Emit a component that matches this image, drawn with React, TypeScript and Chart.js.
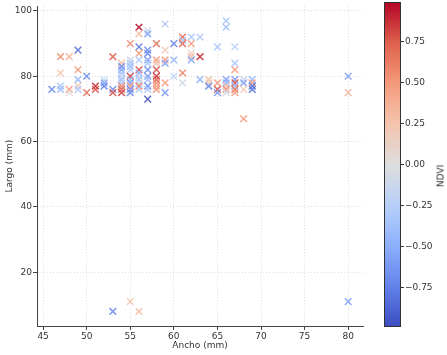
import React, { useEffect, useRef } from 'react';
import { Chart, registerables } from 'chart.js';
Chart.register(...registerables);

// Ancho (mm)
const anchoX = [
  46, 47, 48, 49, 47, 49, 49, 50, 47, 47, 48, 48, 49, 49, 50, 51, 51, 52, 52, 52, 53, 53, 53,
  54, 54, 54, 54, 54, 54, 54, 54, 54, 54,
  55, 55, 55, 55, 55, 55, 55, 55, 55, 55, 55,
  56, 56, 56, 56, 56, 56, 56, 56, 56, 56, 56, 56,
  57, 57, 57, 57, 57, 57, 57, 57, 57, 57, 57, 57,
  58, 58, 58, 58, 58, 58, 58, 58, 58,
  59, 59, 59, 59, 59, 59,
  60, 60, 60,
  61, 61, 61, 61, 61,
  62, 62, 62, 62, 62,
  63, 63, 63,
  64, 64, 64,
  65, 65, 65, 65,
  66, 66, 66, 66, 66, 66, 66,
  67, 67, 67, 67, 67, 67, 67, 67,
  68, 68, 68, 68,
  69, 69, 69, 69,
  80, 80,
  55, 53, 56, 80,
];
// Largo (mm)
const largoY = [
  76, 86, 86, 88, 81, 82, 79, 80, 77, 76, 76, 75, 77, 76, 75, 77, 76, 79, 78, 77, 86, 76, 75,
  84, 83, 82, 81, 80, 79, 78, 77, 76, 75,
  90, 85, 84, 83, 82, 80, 79, 78, 77, 76, 75,
  95, 93, 89, 87, 85, 82, 81, 80, 79, 78, 77, 76,
  94, 93, 88, 87, 85, 84, 82, 80, 79, 77, 76, 73,
  90, 85, 84, 82, 80, 79, 78, 77, 76,
  96, 88, 85, 84, 78, 75,
  90, 85, 80,
  92, 91, 90, 81, 78,
  92, 90, 87, 86, 85,
  92, 86, 79,
  79, 78, 77,
  89, 78, 76, 75,
  97, 95, 79, 78, 77, 76, 75,
  89, 84, 82, 79, 78, 77, 76, 75,
  79, 78, 76, 67,
  79, 78, 77, 76,
  80, 75,
  11, 8, 8, 11,
];
// NDVI
const ndvi = [
  -0.7, 0.55, 0.35, -0.85, 0.25, 0.5, -0.45, -0.7, -0.35, -0.45, 0.5, 0.05, 0.2, -0.35, 0.7, 0.9, 0.8, -0.15, -0.6, -0.75, 0.75, -0.7, 0.8,
  0.3, -0.7, -0.6, -0.35, -0.2, -0.4, -0.3, 0.6, 0.75, 0.85,
  0.55, -0.1, -0.35, -0.4, -0.3, 0.85, -0.4, -0.6, 0.5, -0.7, -0.75,
  0.99, 0.3, -0.8, 0.5, -0.3, 0.8, -0.5, -0.2, -0.35, -0.1, 0.65, -0.3,
  -0.1, -0.6, -0.7, -0.75, -0.6, -0.35, -0.7, -0.65, -0.4, -0.7, -0.35, -0.99,
  0.7, 0.5, 0.3, 0.8, 0.9, 0.75, 0.55, 0.45, 0.55,
  -0.3, 0.2, 0.5, -0.6, 0.5, -0.65,
  -0.75, -0.45, -0.2,
  0.7, -0.35, 0.75, 0.6, -0.1,
  -0.3, 0.5, 0.15, 0.3, -0.55,
  -0.3, 0.9, -0.5,
  0.3, 0.15, -0.75,
  -0.35, 0.5, 0.8, -0.65,
  -0.35, -0.4, -0.6, -0.5, 0.3, 0.55, -0.1,
  -0.25, -0.35, 0.5, -0.6, 0.8, -0.45, 0.7, 0.5,
  -0.1, -0.6, 0.2, 0.5,
  -0.45, 0.5, -0.85, -0.85,
  -0.6, 0.35,
  0.25, -0.7, 0.3, -0.6,
];

const xTicks = [45, 50, 55, 60, 65, 70, 75, 80];
const yTicks = [20, 40, 60, 80, 100];
const cbTicks = [0.75, 0.5, 0.25, 0, -0.25, -0.5, -0.75];
const ndviMin = -0.99;
const ndviMax = 0.99;

const STOPS: number[][] = [
  [59, 76, 192],
  [98, 130, 234],
  [141, 176, 254],
  [184, 208, 249],
  [221, 221, 221],
  [245, 196, 173],
  [244, 154, 123],
  [222, 96, 76],
  [180, 4, 38],
];

function coolwarm(t: number, alpha = 1): string {
  const tt = Math.max(0, Math.min(1, t)) * (STOPS.length - 1);
  const i = Math.min(STOPS.length - 2, Math.floor(tt));
  const f = tt - i;
  const a = STOPS[i];
  const b = STOPS[i + 1];
  const c = [0, 1, 2].map((k) => Math.round(a[k] + (b[k] - a[k]) * f));
  return `rgba(${c[0]},${c[1]},${c[2]},${alpha})`;
}

const norm = (v: number) => (v - ndviMin) / (ndviMax - ndviMin);
const FONT = { family: "'DejaVu Sans', sans-serif", size: 9 };
const TEXT = '#333333';
const fmt = (v: number) => (v < 0 ? '\u2212' + Math.abs(v).toFixed(2) : v.toFixed(2));

export default function App() {
  const mainRef = useRef<HTMLCanvasElement>(null);
  const cbRef = useRef<HTMLCanvasElement>(null);

  useEffect(() => {
    const main = new Chart(mainRef.current!, {
      type: 'scatter',
      data: {
        datasets: [
          {
            data: anchoX.map((x, i) => ({ x, y: largoY[i] })),
            pointStyle: 'crossRot',
            pointRadius: 4.7,
            pointHoverRadius: 4.7,
            pointBorderWidth: 1.5,
            pointBackgroundColor: 'rgba(0,0,0,0)',
            pointBorderColor: (c: any) => coolwarm(norm(ndvi[c.dataIndex] ?? 0), 0.85),
          } as any,
        ],
      },
      options: {
        responsive: false,
        animation: false,
        devicePixelRatio: 1,
        layout: { padding: { left: 0, top: 1, right: 84, bottom: 0 } },
        plugins: { legend: { display: false }, tooltip: { enabled: false } },
        scales: {
          x: {
            type: 'linear',
            min: 44.3,
            max: 81.7,
            afterBuildTicks: (s: any) => {
              s.ticks = xTicks.map((v) => ({ value: v }));
            },
            afterFit: (s: any) => {
              s.height = 29;
              s.paddingLeft = 0;
              s.paddingRight = 0;
            },
            grid: { color: '#d4d4d4', lineWidth: 0.8, tickColor: '#444', tickLength: 4, tickWidth: 1 },
            border: { color: '#444', width: 1, dash: [1, 2] },
            ticks: { color: TEXT, font: FONT, padding: 1, maxRotation: 0, autoSkip: false },
            title: { display: true, text: 'Ancho (mm)', color: TEXT, font: FONT, padding: { top: 0, bottom: 4 } },
          },
          y: {
            type: 'linear',
            min: 3.55,
            max: 101.45,
            afterBuildTicks: (s: any) => {
              s.ticks = yTicks.map((v) => ({ value: v }));
            },
            afterFit: (s: any) => {
              s.width = 37;
              s.paddingTop = 0;
              s.paddingBottom = 0;
            },
            grid: { color: '#d4d4d4', lineWidth: 0.8, tickColor: '#444', tickLength: 4, tickWidth: 1 },
            border: { color: '#444', width: 1, dash: [1, 2] },
            ticks: { color: TEXT, font: FONT, padding: 1, autoSkip: false },
            title: { display: true, text: 'Largo (mm)', color: TEXT, font: FONT, padding: { top: 4, bottom: 0 } },
          },
        },
      },
    });

    const cb = new Chart(cbRef.current!, {
      type: 'scatter',
      data: { datasets: [] },
      options: {
        responsive: false,
        animation: false,
        devicePixelRatio: 1,
        layout: { padding: { left: 384, top: 2, right: 0, bottom: 28 } },
        plugins: { legend: { display: false }, tooltip: { enabled: false } },
        scales: {
          x: { type: 'linear', display: false, min: 0, max: 1 },
          y: {
            type: 'linear',
            position: 'right',
            min: ndviMin,
            max: ndviMax,
            afterBuildTicks: (s: any) => {
              s.ticks = cbTicks.map((v) => ({ value: v }));
            },
            afterFit: (s: any) => {
              s.width = 46;
              s.paddingTop = 0;
              s.paddingBottom = 0;
            },
            grid: { drawOnChartArea: false, tickLength: 3, tickColor: '#333', tickWidth: 1 },
            border: { display: false },
            ticks: { color: TEXT, font: FONT, padding: 1, autoSkip: false, callback: (v: any) => fmt(Number(v)) },
          },
        },
      },
      plugins: [
        {
          id: 'colorbar',
          beforeDatasetsDraw(chart: any) {
            const { ctx, chartArea: a } = chart;
            const g = ctx.createLinearGradient(0, a.bottom, 0, a.top);
            STOPS.forEach((_, i) => g.addColorStop(i / (STOPS.length - 1), coolwarm(i / (STOPS.length - 1))));
            ctx.save();
            ctx.fillStyle = g;
            ctx.fillRect(a.left, a.top, a.right - a.left, a.bottom - a.top);
            ctx.strokeStyle = '#333';
            ctx.lineWidth = 1;
            ctx.strokeRect(a.left + 0.5, a.top + 0.5, a.right - a.left - 1, a.bottom - a.top - 1);
            ctx.restore();
          },
        },
      ],
    });

    return () => {
      main.destroy();
      cb.destroy();
    };
  }, []);

  return (
    <div style={{ position: 'fixed', left: 0, top: 0, width: 447, height: 355, background: '#fff' }}>
      <canvas ref={mainRef} width={447} height={355} style={{ position: 'absolute', left: 0, top: 0 }} />
      <canvas ref={cbRef} width={447} height={355} style={{ position: 'absolute', left: 0, top: 0 }} />
      <span
        style={{
          position: 'absolute',
          left: 441,
          top: 176,
          transform: 'translate(-50%, -50%) rotate(-90deg)',
          fontFamily: "'DejaVu Sans', sans-serif",
          fontSize: 9,
          color: TEXT,
          whiteSpace: 'nowrap',
          lineHeight: 1,
        }}
      >
        NDVI
      </span>
    </div>
  );
}
